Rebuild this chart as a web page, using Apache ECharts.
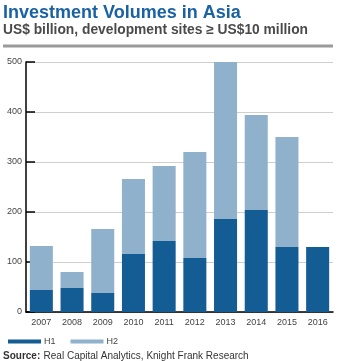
<!DOCTYPE html>
<html><head><meta charset="utf-8">
<script src="https://cdn.jsdelivr.net/npm/echarts@6/dist/echarts.min.js"></script>
<style>html,body{margin:0;padding:0;background:#fff}#c{width:341px;height:361px}</style>
</head><body><div id="c"></div>
<script>
const years = ['2007','2008','2009','2010','2011','2012','2013','2014','2015','2016'];
const h1 = [44, 48, 38, 116, 142, 108, 186, 204, 130, 130];
const h2 = [88, 32, 128, 150, 150, 212, 314, 190, 220, 0];
const yTicks = [0, 100, 200, 300, 400, 500];

const chart = echarts.init(document.getElementById('c'));
const font = 'Liberation Sans, Arial, sans-serif';
chart.setOption({
  animation: false,
  textStyle: {fontFamily: font},
  graphic: [
    {type:'text', left:3, top:4, style:{text:'Investment Volumes in Asia', font:'bold 18px Liberation Sans, Arial', fill:'#1b62a3'}},
    {type:'text', left:3, top:23, style:{text:'US$ billion, development sites ≥ US$10 million', font:'bold 13.8px Liberation Sans, Arial', fill:'#4a4a4a'}},
    {type:'rect', shape:{x:3, y:44.5, width:330, height:3}, style:{fill:'#9a9a9a'}},
    {type:'text', left:3, top:350, style:{rich:{b:{fontWeight:'bold', fontSize:10, fill:'#333', fontFamily:font}, n:{fontSize:10, fill:'#333', fontFamily:font}}, text:'{b|Source:} {n|Real Capital Analytics, Knight Frank Research}'}}
  ],
  legend: {
    left: 3, top: 332, itemWidth: 33, itemHeight: 4, itemGap: 15,
    icon: 'rect',
    textStyle: {fontSize: 9, color: '#444', padding:[0,0,0,-2]},
    data: ['H1','H2']
  },
  grid: {left: 26, right: 8, top: 62, bottom: 49},
  xAxis: {
    type: 'category', data: years,
    axisLine: {lineStyle: {color: '#000', width: 1.5}},
    axisTick: {inside: true, length: 6, lineStyle: {color: '#000', width: 1.5}},
    axisLabel: {fontSize: 9, color: '#444', margin: 6}
  },
  yAxis: {
    type: 'value', min: 0, max: 500, interval: 100,
    axisLine: {show: true, lineStyle: {color: '#000', width: 1.5}},
    axisTick: {show: true, inside: true, length: 9, lineStyle: {color: '#000', width: 1.5}},
    axisLabel: {fontSize: 9, color: '#444', margin: 4},
    splitLine: {lineStyle: {color: '#cfcfcf', width: 1}}
  },
  series: [
    {name:'H1', type:'bar', stack:'t', data:h1, barCategoryGap:'25%', itemStyle:{color:'#135c94'}},
    {name:'H2', type:'bar', stack:'t', data:h2, barCategoryGap:'25%', itemStyle:{color:'#8fb1cb'}}
  ]
});
</script></body></html>
